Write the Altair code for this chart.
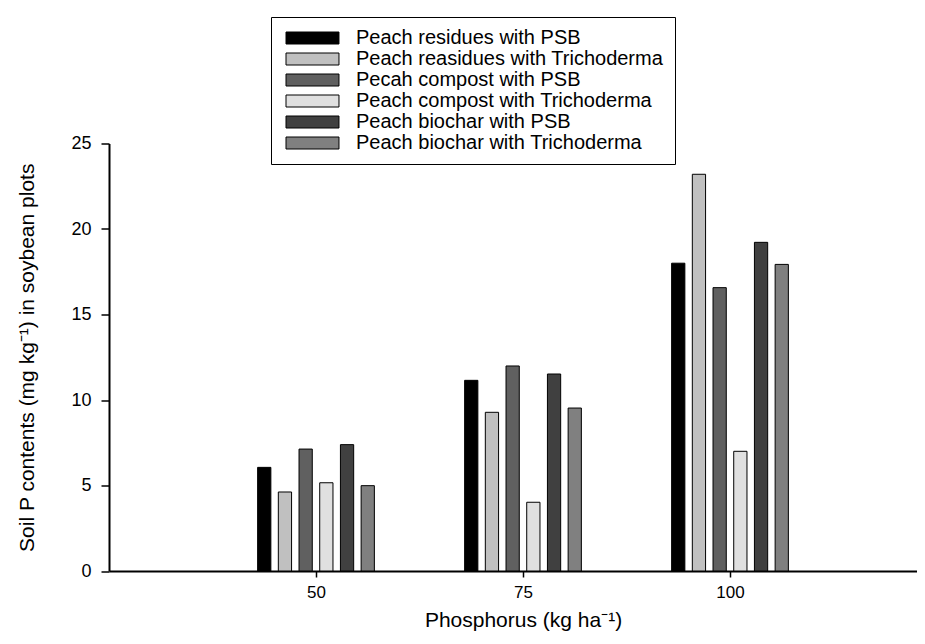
import altair as alt
import pandas as pd

# ---- data ----
phosphorus = [50, 75, 100]
treatments = [
    "Peach residues with PSB",
    "Peach reasidues with Trichoderma",
    "Pecah compost with PSB",
    "Peach compost with Trichoderma",
    "Peach biochar with PSB",
    "Peach biochar with Trichoderma",
]
residues_psb = [6.06, 11.15, 18.0]
residues_tricho = [4.62, 9.28, 23.2]
compost_psb = [7.13, 11.99, 16.57]
compost_tricho = [5.16, 4.02, 7.0]
biochar_psb = [7.39, 11.52, 19.22]
biochar_tricho = [4.99, 9.53, 17.93]
colors = ["#000000", "#c0c0c0", "#606060", "#e0e0e0", "#404040", "#808080"]

series = [residues_psb, residues_tricho, compost_psb,
          compost_tricho, biochar_psb, biochar_tricho]

# group layout (in x data units): slot spacing and bar half-width
slot = 2.5
half_w = 0.8

rows = []
for i, (name, vals) in enumerate(zip(treatments, series)):
    off = (i - (len(treatments) - 1) / 2) * slot
    for p, v in zip(phosphorus, vals):
        rows.append({"P": p, "treatment": name, "value": v,
                     "x0": p + off - half_w, "x1": p + off + half_w})
df = pd.DataFrame(rows)

font = "Liberation Sans"
W, H = 808, 427.5

# wide swatch: 12px-tall square stretched to the right (~53px)
legend = alt.Legend(
    orient="none", legendX=162, legendY=-126.5, title=None,
    strokeColor="black", fillColor="white", padding=11,
    symbolType="M-1,-1L7.83,-1L7.83,1L-1,1Z",
    symbolSize=144, symbolStrokeColor="black", symbolStrokeWidth=1,
    symbolOpacity=1,
    labelFont=font, labelFontSize=20, labelColor="black",
    labelOffset=54, rowPadding=1, labelLimit=600,
)

chart = alt.Chart(df).mark_rect(stroke="black", strokeWidth=1).encode(
    x=alt.X("x0:Q",
            scale=alt.Scale(domain=[25, 25 + W / 8.28], nice=False, zero=False),
            axis=alt.Axis(values=phosphorus, title="Phosphorus (kg ha⁻¹)",
                          grid=False, domainColor="black", domainWidth=2,
                          tickColor="black", tickSize=6, tickWidth=1.5,
                          labelFont=font, labelFontSize=17, labelColor="black",
                          labelPadding=7,
                          titleFont=font, titleFontSize=21, titleFontWeight="normal",
                          titleColor="black", titleX=414, titleY=55,
                          titleAlign="center", titleBaseline="alphabetic")),
    x2="x1:Q",
    y=alt.Y("value:Q",
            scale=alt.Scale(domain=[0, 25], nice=False),
            axis=alt.Axis(values=[0, 5, 10, 15, 20, 25],
                          title="Soil P contents (mg kg⁻¹) in soybean plots",
                          grid=False, domainColor="black", domainWidth=2,
                          tickColor="black", tickSize=8, tickWidth=1.5,
                          labelFont=font, labelFontSize=18, labelColor="black",
                          labelPadding=10,
                          titleFont=font, titleFontSize=21, titleFontWeight="normal",
                          titleColor="black", titleX=-75.7, titleY=H / 2,
                          titleAlign="center", titleBaseline="alphabetic")),
    y2=alt.datum(0),
    fill=alt.Fill("treatment:N",
                  scale=alt.Scale(domain=treatments, range=colors),
                  legend=legend),
).properties(
    width=W, height=H,
    background="white",
    autosize=alt.AutoSizeParams(type="none"),
    padding={"left": 101, "top": 135.5, "right": 0, "bottom": 61},
).configure_view(stroke=None)

chart.save("out.html", embed_options={"renderer": "svg", "actions": False})
